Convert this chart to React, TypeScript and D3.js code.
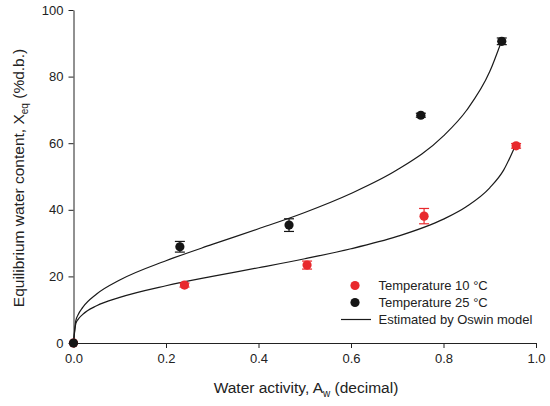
import { useRef, useEffect } from "react";
import * as d3 from "d3";

// measured points (water activity, equilibrium water content, error)
const aw10 = [0, 0.24, 0.505, 0.758, 0.957];
const xeq10 = [0, 17.4, 23.4, 38.1, 59.2];
const err10 = [0, 0.6, 1.2, 2.3, 0.7];

const aw25 = [0, 0.23, 0.466, 0.751, 0.926];
const xeq25 = [0, 28.9, 35.4, 68.4, 90.6];
const err25 = [0, 1.6, 1.9, 0.6, 1.0];

// Oswin model curves
const fitAw10 = [0, 0.005, 0.01, 0.02, 0.05, 0.1, 0.2, 0.3, 0.4, 0.5, 0.6, 0.7, 0.8, 0.85, 0.9, 0.93, 0.955];
const fitX10 = [0, 5.8, 7.1, 8.6, 11.2, 13.7, 17.2, 20.0, 22.6, 25.3, 28.3, 32.0, 37.2, 41.0, 46.6, 51.9, 59.2];
const fitAw25 = [0, 0.005, 0.01, 0.02, 0.05, 0.1, 0.2, 0.3, 0.4, 0.5, 0.6, 0.7, 0.8, 0.85, 0.9, 0.925];
const fitX25 = [0, 6.7, 8.5, 10.7, 14.7, 18.9, 24.7, 29.6, 34.3, 39.2, 44.9, 52.0, 62.2, 69.9, 81.5, 90.5];

const xTicks = [0, 0.2, 0.4, 0.6, 0.8, 1.0];
const yTicks = [0, 20, 40, 60, 80, 100];

const legendLabels = ["Temperature 10 °C", "Temperature 25 °C", "Estimated by Oswin model"];

const RED = "#e8292d";
const BLACK = "#151515";
const FONT = "'Liberation Sans', Arial, sans-serif";

export default function App() {
  const svgRef = useRef<SVGSVGElement>(null);

  useEffect(() => {
    if (!svgRef.current) return;
    const width = 550;
    const height = 406;
    const margin = { left: 73.5, right: 14, top: 10, bottom: 63 };

    const svg = d3.select(svgRef.current);
    svg.selectAll("*").remove();
    svg.attr("width", width).attr("height", height).attr("viewBox", `0 0 ${width} ${height}`);

    const x = d3.scaleLinear().domain([0, 1]).range([margin.left, width - margin.right]);
    const y = d3.scaleLinear().domain([0, 100]).range([height - margin.bottom, margin.top]);

    // axes
    const xAxis = svg
      .append("g")
      .attr("transform", `translate(0,${y(0)})`)
      .call(d3.axisBottom(x).tickValues(xTicks).tickFormat(d3.format(".1f")).tickSize(5).tickSizeOuter(0).tickPadding(6));
    const yAxis = svg
      .append("g")
      .attr("transform", `translate(${x(0)},0)`)
      .call(d3.axisLeft(y).tickValues(yTicks).tickSize(5).tickSizeOuter(0).tickPadding(5));
    [xAxis, yAxis].forEach((a) => {
      a.selectAll("path,line").attr("stroke", "#222").attr("stroke-width", 1);
      a.selectAll("text").style("font-family", FONT).style("font-size", "13px").attr("fill", "#222");
    });

    // model curves
    const line = d3
      .line<[number, number]>()
      .x((d) => x(d[0]))
      .y((d) => y(d[1]))
      .curve(d3.curveMonotoneX);
    [
      [fitAw10, fitX10],
      [fitAw25, fitX25],
    ].forEach(([a, v]) => {
      svg
        .append("path")
        .attr("d", line(a.map((d, i) => [d, v[i]] as [number, number])))
        .attr("fill", "none")
        .attr("stroke", "#1a1a1a")
        .attr("stroke-width", 1.2);
    });

    // points with error bars
    const series = [
      { aw: aw10, v: xeq10, e: err10, color: RED },
      { aw: aw25, v: xeq25, e: err25, color: BLACK },
    ];
    series.forEach((s) => {
      const g = svg.append("g");
      s.aw.forEach((a, i) => {
        if (s.e[i] <= 0) return;
        const cx = x(a);
        const y0 = y(s.v[i] - s.e[i]);
        const y1 = y(s.v[i] + s.e[i]);
        g.append("line").attr("x1", cx).attr("x2", cx).attr("y1", y0).attr("y2", y1).attr("stroke", s.color).attr("stroke-width", 1.2);
        [y0, y1].forEach((yy) =>
          g.append("line").attr("x1", cx - 5).attr("x2", cx + 5).attr("y1", yy).attr("y2", yy).attr("stroke", s.color).attr("stroke-width", 1.2)
        );
      });
      g.selectAll("circle")
        .data(s.aw.map((a, i) => [a, s.v[i]]))
        .join("circle")
        .attr("cx", (d) => x(d[0]))
        .attr("cy", (d) => y(d[1]))
        .attr("r", 4.6)
        .attr("fill", s.color);
    });

    // legend
    const lg = svg.append("g").style("font-family", FONT).style("font-size", "13px");
    const rowY = [285.5, 302.5, 319.5];
    const textX = 378.5;
    lg.append("circle").attr("cx", 355).attr("cy", rowY[0]).attr("r", 4.6).attr("fill", RED);
    lg.append("circle").attr("cx", 355).attr("cy", rowY[1]).attr("r", 4.6).attr("fill", BLACK);
    lg.append("line").attr("x1", 341).attr("x2", 371).attr("y1", rowY[2]).attr("y2", rowY[2]).attr("stroke", "#1a1a1a").attr("stroke-width", 1.2);
    legendLabels.forEach((t, i) => {
      lg.append("text").attr("x", textX).attr("y", rowY[i]).attr("dy", "0.35em").attr("fill", "#222").text(t);
    });

    // axis titles
    const xt = svg
      .append("text")
      .attr("x", 306)
      .attr("y", 393)
      .attr("text-anchor", "middle")
      .style("font-family", FONT)
      .style("font-size", "15.5px")
      .attr("fill", "#222");
    xt.append("tspan").text("Water activity, A");
    xt.append("tspan").attr("dy", 4).style("font-size", "10px").text("w");
    xt.append("tspan").attr("dy", -4).text(" (decimal)");

    const yt = svg
      .append("text")
      .attr("transform", `translate(24,178) rotate(-90)`)
      .attr("text-anchor", "middle")
      .style("font-family", FONT)
      .style("font-size", "15.5px")
      .attr("fill", "#222");
    yt.append("tspan").text("Equilibrium water content, X");
    yt.append("tspan").attr("dy", 4).style("font-size", "10px").text("eq");
    yt.append("tspan").attr("dy", -4).text(" (%d.b.)");
  }, []);

  return <svg ref={svgRef} style={{ position: "absolute", left: 0, top: 0, background: "#fff" }} />;
}
